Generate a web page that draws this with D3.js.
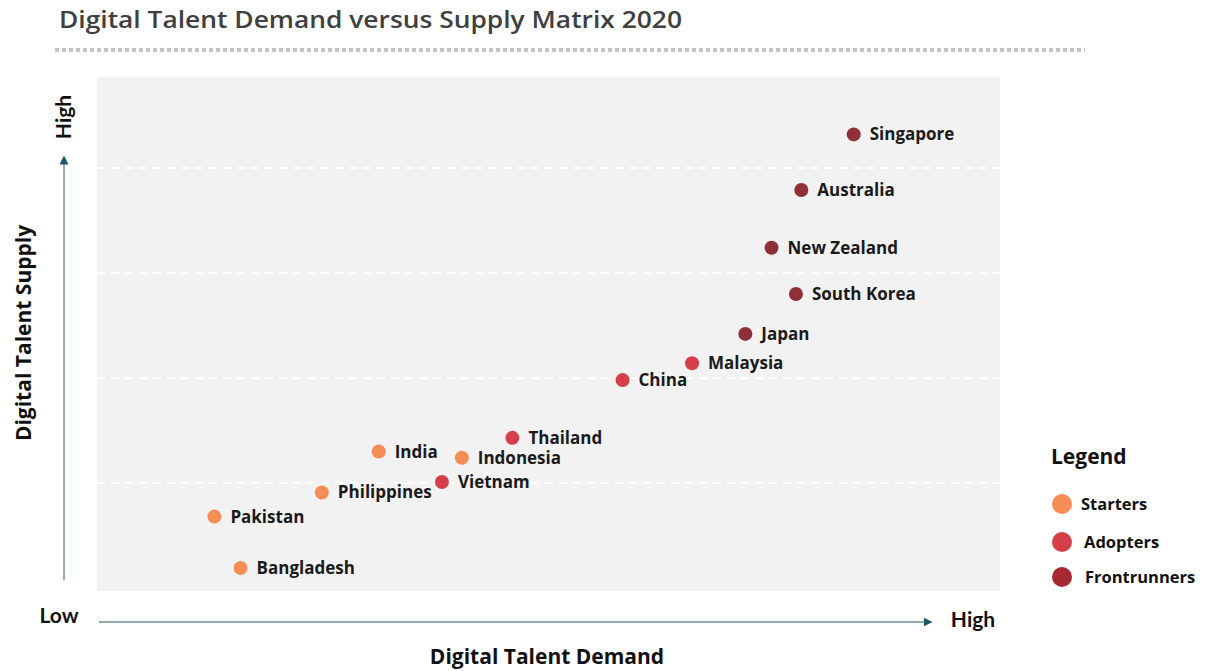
<!DOCTYPE html>
<html>
<head>
<meta charset="utf-8">
<script src="https://cdn.jsdelivr.net/npm/d3@7"></script>
<style>
  body { margin: 0; background: #fff; }
  text { font-family: "Open Sans", Lato, sans-serif; }
</style>
</head>
<body>
<div id="chart"></div>
<script>
const countries = ["Singapore", "Australia", "New Zealand", "South Korea", "Japan", "Malaysia", "China",
  "Thailand", "India", "Indonesia", "Vietnam", "Philippines", "Pakistan", "Bangladesh"];
const demand = [8.38, 7.80, 7.47, 7.74, 7.18, 6.59, 5.82, 4.60, 3.12, 4.04, 3.82, 2.49, 1.30, 1.59];
const supply = [4.32, 3.79, 3.24, 2.80, 2.42, 2.14, 1.98, 1.43, 1.30, 1.24, 1.01, 0.91, 0.68, 0.19];
const groups = ["Frontrunners", "Frontrunners", "Frontrunners", "Frontrunners", "Frontrunners", "Adopters", "Adopters",
  "Adopters", "Starters", "Starters", "Adopters", "Starters", "Starters", "Starters"];
const legendItems = ["Starters", "Adopters", "Frontrunners"];
const gridTicks = [1, 2, 3, 4];

const width = 1205;
const height = 671;

const svg = d3.select("#chart")
  .append("svg")
  .attr("width", width)
  .attr("height", height);

const x = d3.scaleLinear().domain([0, 10]).range([97, 1000]);
const y = d3.scaleLinear().domain([0, 5]).range([588, 63]);

const pointColor = d3.scaleOrdinal()
  .domain(legendItems)
  .range(["#f68d54", "#d63f4a", "#8f3038"]);
const legendColor = d3.scaleOrdinal()
  .domain(legendItems)
  .range(["#f68d54", "#d63f4a", "#a52832"]);

// title + dotted rule
svg.append("text")
  .attr("x", 59)
  .attr("y", 28)
  .attr("font-size", 23)
  .attr("font-weight", 600)
  .attr("fill", "#404040")
  .attr("textLength", 623)
  .attr("lengthAdjust", "spacingAndGlyphs")
  .text("Digital Talent Demand versus Supply Matrix 2020");

svg.append("line")
  .attr("x1", 55).attr("x2", 1085)
  .attr("y1", 50).attr("y2", 50)
  .attr("stroke", "#c4c4c4")
  .attr("stroke-width", 4)
  .attr("stroke-dasharray", "4 3");

// plot background
svg.append("rect")
  .attr("x", 97).attr("y", 77)
  .attr("width", 903).attr("height", 514)
  .attr("fill", "#f2f2f2");

svg.selectAll(".grid")
  .data(gridTicks)
  .enter()
  .append("line")
  .attr("class", "grid")
  .attr("x1", x(0)).attr("x2", x(10))
  .attr("y1", (d) => y(d)).attr("y2", (d) => y(d))
  .attr("stroke", "#fff")
  .attr("stroke-width", 2)
  .attr("stroke-dasharray", "8 6");

// arrows
const defs = svg.append("defs");
defs.append("marker")
  .attr("id", "arrow")
  .attr("viewBox", "0 0 10 10")
  .attr("refX", 5).attr("refY", 5)
  .attr("markerWidth", 9).attr("markerHeight", 9)
  .attr("markerUnits", "userSpaceOnUse")
  .attr("orient", "auto")
  .append("path")
  .attr("d", "M0,0 L10,5 L0,10 z")
  .attr("fill", "#1d5666");

svg.append("line")
  .attr("x1", 64).attr("x2", 64)
  .attr("y1", 580).attr("y2", 160)
  .attr("stroke", "#6e97a2")
  .attr("stroke-width", 1.5)
  .attr("marker-end", "url(#arrow)");

svg.append("line")
  .attr("x1", 99).attr("x2", 928)
  .attr("y1", 622).attr("y2", 622)
  .attr("stroke", "#1d5666")
  .attr("stroke-width", 1.2)
  .attr("marker-end", "url(#arrow)");

const axisText = (tx, ty, rot, size, str, family) => svg.append("text")
  .attr("transform", `translate(${tx},${ty}) rotate(${rot})`)
  .attr("text-anchor", "middle")
  .attr("font-size", size)
  .attr("font-weight", 700)
  .attr("fill", "#111")
  .style("font-family", family)
  .text(str);

axisText(71, 117, -90, 21, "High", "Lato");
axisText(31, 333, -90, 21, "Digital Talent Supply", "Open Sans");
axisText(59, 623, 0, 21, "Low", "Lato");
axisText(973, 627, 0, 21, "High", "Lato");
axisText(547, 664, 0, 21, "Digital Talent Demand", "Open Sans");

// points
const data = countries.map((c, i) => ({ name: c, demand: demand[i], supply: supply[i], group: groups[i] }));

svg.selectAll(".dot")
  .data(data)
  .enter()
  .append("circle")
  .attr("class", "dot")
  .attr("cx", (d) => x(d.demand))
  .attr("cy", (d) => y(d.supply))
  .attr("r", 7)
  .attr("fill", (d) => pointColor(d.group));

svg.selectAll(".label")
  .data(data)
  .enter()
  .append("text")
  .attr("class", "label")
  .attr("x", (d) => x(d.demand) + 16)
  .attr("y", (d) => y(d.supply) + 6)
  .attr("font-size", 17)
  .attr("font-weight", 700)
  .attr("fill", "#1a1a1a")
  .text((d) => d.name);

// legend
svg.append("text")
  .attr("x", 1051).attr("y", 464)
  .attr("font-size", 21)
  .attr("font-weight", 700)
  .attr("fill", "#111")
  .text("Legend");

const legendY = [504, 542, 577];
const legend = svg.selectAll(".legend")
  .data(legendItems)
  .enter()
  .append("g")
  .attr("class", "legend")
  .attr("transform", (d, i) => `translate(1062, ${legendY[i]})`);

legend.append("circle")
  .attr("r", 10)
  .attr("fill", (d) => legendColor(d));

legend.append("text")
  .attr("x", (d, i) => [19, 22, 23][i])
  .attr("y", 6)
  .attr("font-size", 16.5)
  .attr("font-weight", 700)
  .attr("fill", "#111")
  .text((d) => d);
</script>
</body>
</html>
